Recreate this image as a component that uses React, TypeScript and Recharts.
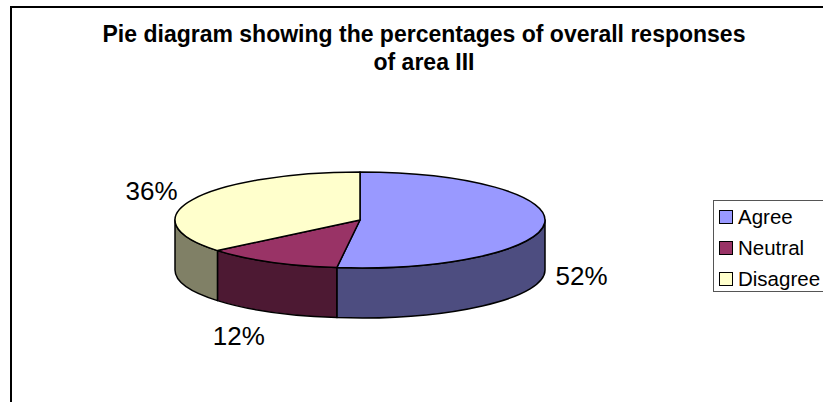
import { PieChart, Pie, Legend } from 'recharts';

const categories = ['Agree', 'Neutral', 'Disagree'];
const percentages = [52, 12, 36];
const topColors = ['#9999ff', '#993366', '#ffffcc'];
const wallColors = ['#4d4d80', '#4d1933', '#808066'];
const labelShifts = [[37, 53], [-32, 74], [-41, -9]];

const data = categories.map((name, i) => ({
  name,
  value: percentages[i],
  topFill: topColors[i],
  wallFill: wallColors[i],
  shift: labelShifts[i],
}));

const WIDTH = 823;
const HEIGHT = 402;
const CX = 360;
const CY = 220;
const RX = 185;
// the pie is tilted, so the circle gets squashed into an ellipse
const SQUASH = 48 / 185;
const DEPTH = 50;

const onEllipse = (cx: number, cy: number, r: number, deg: number) => {
  const a = (deg * Math.PI) / 180;
  return [cx + r * Math.cos(a), cy - r * SQUASH * Math.sin(a)];
};

function TopSlice(props: any) {
  const { cx, cy, outerRadius: r, startAngle, endAngle, payload } = props;
  const [x1, y1] = onEllipse(cx, cy, r, startAngle);
  const [x2, y2] = onEllipse(cx, cy, r, endAngle);
  const large = Math.abs(startAngle - endAngle) > 180 ? 1 : 0;
  return (
    <path
      d={`M${cx},${cy} L${x1},${y1} A${r},${r * SQUASH} 0 ${large} 1 ${x2},${y2} Z`}
      fill={payload.topFill}
      stroke="#000"
      strokeWidth={1.5}
      strokeLinejoin="round"
    />
  );
}

function WallSlice(props: any) {
  const { cx, cy, outerRadius: r, startAngle, endAngle, payload } = props;
  // only the front half of the rim can be seen
  const from = Math.min(startAngle, 0);
  const to = Math.max(endAngle, -180);
  if (from <= to) return null;
  const [x1, y1] = onEllipse(cx, cy, r, from);
  const [x2, y2] = onEllipse(cx, cy, r, to);
  const ry = r * SQUASH;
  return (
    <path
      d={`M${x1},${y1} A${r},${ry} 0 0 1 ${x2},${y2} L${x2},${y2 + DEPTH} A${r},${ry} 0 0 0 ${x1},${y1 + DEPTH} Z`}
      fill={payload.wallFill}
      stroke="#000"
      strokeWidth={1.5}
      strokeLinejoin="round"
    />
  );
}

function PercentLabel(props: any) {
  const { cx, cy, outerRadius: r, midAngle, payload } = props;
  const [x, y] = onEllipse(cx, cy, r, midAngle);
  return (
    <text
      x={x + payload.shift[0]}
      y={y + payload.shift[1]}
      textAnchor="middle"
      dominantBaseline="central"
      fontSize={26}
      fontFamily="Liberation Sans"
      fill="#000"
    >
      {payload.value}%
    </text>
  );
}

function LegendBox() {
  return (
    <div
      style={{
        width: 110,
        height: 92,
        boxSizing: 'border-box',
        border: '1px solid #555',
        borderRight: 'none',
        fontFamily: 'Liberation Sans',
        fontSize: 20.5,
        color: '#000',
        paddingTop: 0,
      }}
    >
      {categories.map((name, i) => (
        <div key={name} style={{ display: 'flex', alignItems: 'center', height: 31, paddingLeft: 5 }}>
          <span
            style={{
              width: 14,
              height: 14,
              boxSizing: 'border-box',
              border: '1.5px solid #000',
              background: topColors[i],
              marginRight: 5,
            }}
          />
          {name}
        </div>
      ))}
    </div>
  );
}

export default function App() {
  return (
    <div style={{ position: 'absolute', left: 0, top: 0, width: WIDTH, height: HEIGHT, background: '#fff', overflow: 'hidden' }}>
      <div style={{ position: 'absolute', left: 10, top: 6, right: 0, bottom: 0, borderLeft: '2px solid #000', borderTop: '2px solid #000' }} />
      <PieChart width={WIDTH} height={HEIGHT} margin={{ top: 0, right: 0, bottom: 0, left: 0 }} style={{ position: 'absolute', left: 0, top: 0 }}>
        <text x={424} y={42} textAnchor="middle" fontSize={23} fontWeight="bold" fontFamily="Liberation Sans" fill="#000">
          Pie diagram showing the percentages of overall responses
        </text>
        <text x={424} y={70} textAnchor="middle" fontSize={23} fontWeight="bold" fontFamily="Liberation Sans" fill="#000">
          of area III
        </text>
        <Pie
          data={data}
          dataKey="value"
          cx={CX}
          cy={CY}
          outerRadius={RX}
          startAngle={90}
          endAngle={-270}
          isAnimationActive={false}
          shape={WallSlice}
          legendType="none"
        />
        <Pie
          data={data}
          dataKey="value"
          cx={CX}
          cy={CY}
          outerRadius={RX}
          startAngle={90}
          endAngle={-270}
          isAnimationActive={false}
          shape={TopSlice}
          label={PercentLabel}
          labelLine={false}
          legendType="none"
        />
        <Legend
          layout="vertical"
          content={() => <LegendBox />}
          wrapperStyle={{ position: 'absolute', left: 713, top: 200, width: 110, bottom: 'auto', right: 'auto' }}
        />
      </PieChart>
    </div>
  );
}
